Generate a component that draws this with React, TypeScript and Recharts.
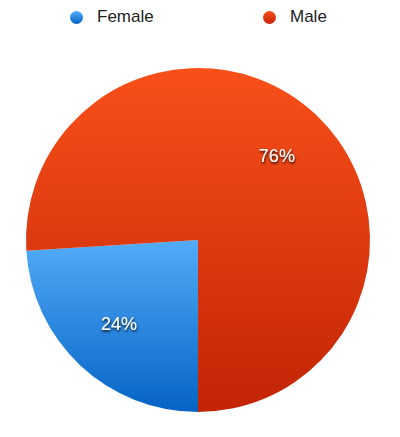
import React from 'react';
import { PieChart, Pie, Cell, Legend } from 'recharts';

const genders = ['Female', 'Male'];
const shares = [24, 76];
const palette = [
  { top: '#52acf9', bottom: '#0563c4' },
  { top: '#f9501a', bottom: '#c22405' },
];

const data = genders.map((name, i) => ({ name, value: shares[i] }));

const RADIAN = Math.PI / 180;
const LEGEND_H = 34;

const renderLabel = (props: any) => {
  const { cx, cy, midAngle, outerRadius, value } = props;
  const r = outerRadius * 0.67;
  const x = cx + r * Math.cos(-midAngle * RADIAN);
  const y = cy + r * Math.sin(-midAngle * RADIAN);
  return (
    <text
      x={x}
      y={y}
      fill="#fff"
      textAnchor="middle"
      dominantBaseline="central"
      fontSize={18}
      fontFamily="'Liberation Sans', Arial, sans-serif"
      filter="url(#labelShadow)"
    >
      {`${value}%`}
    </text>
  );
};

const renderLegend = () => (
  <div style={{ position: 'relative', height: LEGEND_H, fontFamily: "'Liberation Sans', Arial, sans-serif", fontSize: 17, color: '#222' }}>
    {genders.map((g, i) => (
      <div key={g} style={{ position: 'absolute', left: i === 0 ? 70 : 263, top: 7, display: 'flex', alignItems: 'center' }}>
        <span
          style={{
            display: 'inline-block',
            width: 13,
            height: 13,
            borderRadius: 7,
            background: `linear-gradient(${palette[i].top}, ${palette[i].bottom})`,
            marginRight: 14,
          }}
        />
        <span>{g}</span>
      </div>
    ))}
  </div>
);

export default function App() {
  return (
    <div style={{ position: 'absolute', left: 0, top: 0, width: 400, height: 437, background: '#fff' }}>
      <PieChart width={400} height={437} margin={{ top: 0, right: 0, bottom: 0, left: 0 }}>
        <defs>
          {palette.map((p, i) => (
            <linearGradient key={i} id={`grad${i}`} x1="0" y1="0" x2="0" y2="1">
              <stop offset="0%" stopColor={p.top} />
              <stop offset="100%" stopColor={p.bottom} />
            </linearGradient>
          ))}
          <filter id="labelShadow" x="-20%" y="-30%" width="140%" height="170%">
            <feDropShadow dx="0.5" dy="1.5" stdDeviation="0.9" floodColor="#000" floodOpacity="0.95" />
          </filter>
        </defs>
        <Legend verticalAlign="top" align="left" content={renderLegend} wrapperStyle={{ top: 0, left: 0, width: 400 }} />
        <Pie
          data={data}
          dataKey="value"
          nameKey="name"
          cx={198}
          cy={240 - LEGEND_H}
          outerRadius={172}
          startAngle={270}
          endAngle={-90}
          stroke="none"
          label={renderLabel}
          labelLine={false}
          isAnimationActive={false}
        >
          {data.map((d, i) => (
            <Cell key={d.name} fill={`url(#grad${i})`} />
          ))}
        </Pie>
      </PieChart>
    </div>
  );
}
